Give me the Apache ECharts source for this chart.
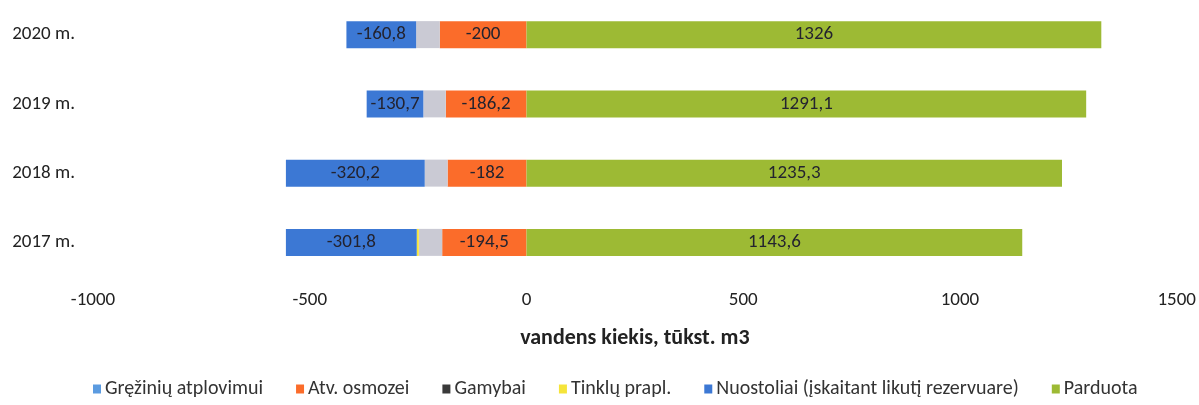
<!DOCTYPE html>
<html>
<head>
<meta charset="utf-8">
<script src="https://cdn.jsdelivr.net/npm/echarts@6/dist/echarts.min.js"></script>
<style>
  html, body { margin: 0; padding: 0; background: #fff; }
  #chart { width: 1199px; height: 405px; }
</style>
</head>
<body>
<div id="chart"></div>
<script>
// metai (apacia -> virsus)
var years = ['2017 m.', '2018 m.', '2019 m.', '2020 m.'];

// serijos, tukst. m3
var greziniu = [0, 0, 0, 0];
var osmozei = [-194.5, -182, -186.2, -200];
var gamybai = [-54, -52.8, -51.8, -54.6];
var tinklu = [-4.7, 0, 0, 0];
var nuostoliai = [-301.8, -320.2, -130.7, -160.8];
var parduota = [1143.6, 1235.3, 1291.1, 1326];

var xTicks = { min: -1000, max: 1500, step: 500 };

var font = "Carlito, 'Liberation Sans Narrow', 'Noto Sans', sans-serif";

// skaiciai su kableliu
function lt(v) {
    return String(v).replace('.', ',');
}

var chart = echarts.init(document.getElementById('chart'));

function barSeries(name, data, color, showLabel) {
    return {
        name: name,
        type: 'bar',
        stack: 'viso',
        data: data,
        barWidth: 27,
        itemStyle: { color: color },
        label: {
            show: showLabel,
            position: 'inside',
            color: '#23232f',
            fontFamily: font,
            fontSize: 19,
            formatter: function (p) { return lt(p.value); }
        }
    };
}

chart.setOption({
    animation: false,
    textStyle: { fontFamily: font },
    grid: { left: 93, right: 21, top: -7, height: 284, containLabel: false },
    xAxis: {
        type: 'value',
        min: xTicks.min,
        max: xTicks.max,
        interval: xTicks.step,
        axisLine: { show: false },
        axisTick: { show: false },
        splitLine: { show: false },
        axisLabel: {
            color: '#222', fontSize: 19, margin: 14,
            formatter: function (v) { return String(v); }
        },
        name: 'vandens kiekis, tūkst. m3',
        nameLocation: 'middle',
        nameGap: 50,
        nameTextStyle: { color: '#222', fontSize: 22, fontWeight: 'bold', fontFamily: font }
    },
    yAxis: {
        type: 'category',
        data: years,
        axisLine: { show: false },
        axisTick: { show: false },
        axisLabel: { color: '#222', fontSize: 19, margin: 18 }
    },
    legend: {
        bottom: 1,
        left: 88,
        itemWidth: 8,
        itemHeight: 9,
        itemGap: 33,
        textStyle: { color: '#333', fontSize: 20, fontFamily: font, padding: [0, 0, 0, -1] },
        data: [
            { name: 'Gręžinių atplovimui', icon: 'rect' },
            { name: 'Atv. osmozei', icon: 'rect' },
            { name: 'Gamybai', icon: 'rect', itemStyle: { color: '#3a3a3a' } },
            { name: 'Tinklų prapl.', icon: 'rect' },
            { name: 'Nuostoliai (įskaitant likutį rezervuare)', icon: 'rect' },
            { name: 'Parduota', icon: 'rect' }
        ]
    },
    series: [
        barSeries('Gręžinių atplovimui', greziniu, '#5b9be0', false),
        barSeries('Atv. osmozei', osmozei, '#fb6c2a', true),
        barSeries('Gamybai', gamybai, '#cacad4', false),
        barSeries('Tinklų prapl.', tinklu, '#f5e43a', false),
        barSeries('Nuostoliai (įskaitant likutį rezervuare)', nuostoliai, '#3c78d4', true),
        barSeries('Parduota', parduota, '#9dba34', true)
    ]
});
</script>
</body>
</html>
